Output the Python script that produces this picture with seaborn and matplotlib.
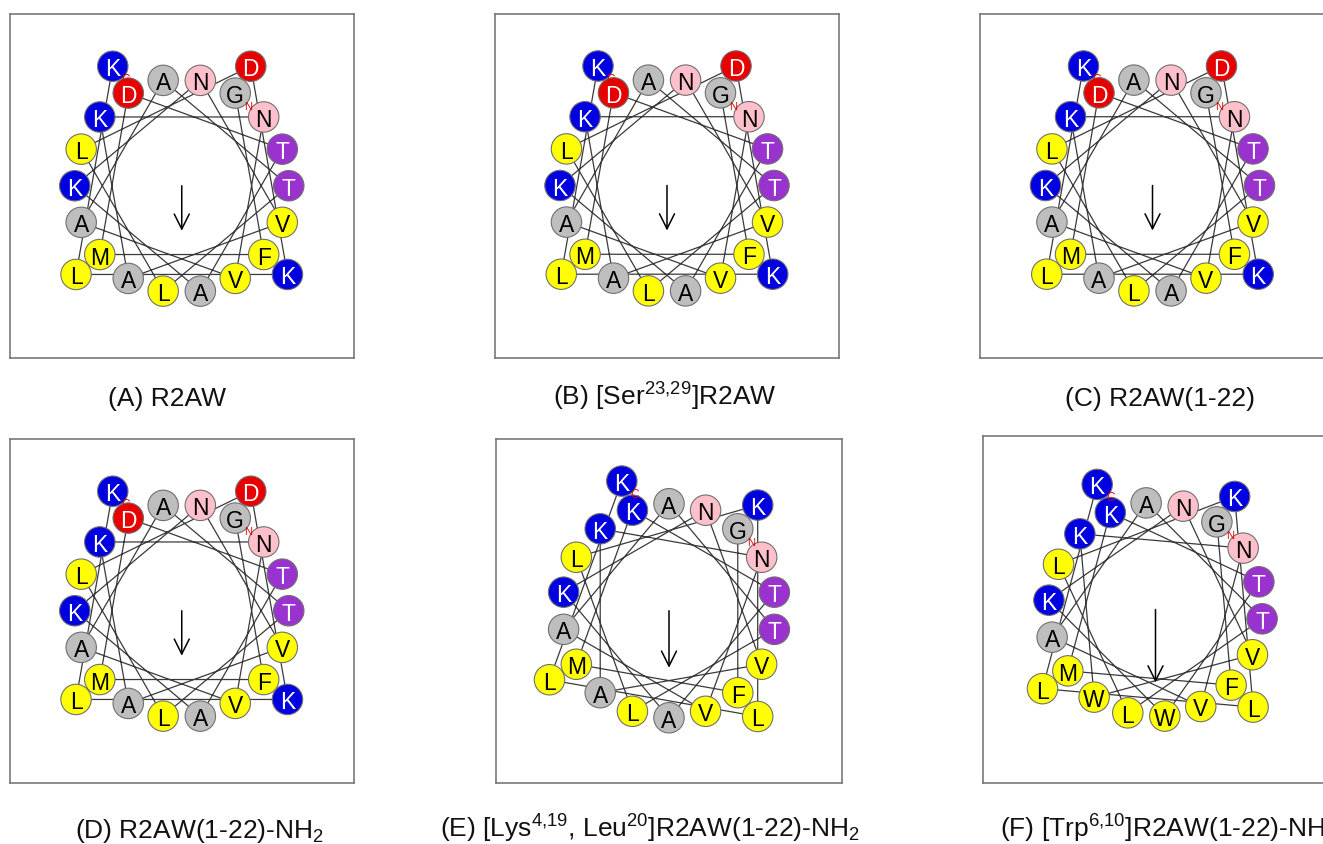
import matplotlib
matplotlib.use("Agg")
import matplotlib.pyplot as plt
import numpy as np
import pandas as pd
import seaborn as sns

# ---------------- data ----------------
seq_r2aw = list("GFMDTAKNVAKNVAATLLDKLK")
seq_lys = list("GFMKTAKNVAKNVAATLLKLLK")
seq_trp = list("GFMKTWKNVWKNVAATLLKLLK")

panel_names = [
    "(A) R2AW",
    r"(B) [Ser$^{\mathrm{23{,}29}}$]R2AW",
    "(C) R2AW(1-22)",
    r"(D) R2AW(1-22)-NH$_{\mathrm{2}}$",
    r"(E) [Lys$^{\mathrm{4{,}19}}$, Leu$^{\mathrm{20}}$]R2AW(1-22)-NH$_{\mathrm{2}}$",
    r"(F) [Trp$^{\mathrm{6{,}10}}$]R2AW(1-22)-NH$_{\mathrm{2}}$",
]
panel_seqs = [seq_r2aw, seq_r2aw, seq_r2aw, seq_r2aw, seq_lys, seq_trp]
panel_rotation = [30, 30, 30, 30, 40, 35]      # angle of residue 1 (deg, clockwise from top)
panel_moment = [45, 45, 45, 45, 57, 73]        # hydrophobic moment arrow length

residue_class = {
    "K": "basic", "R": "basic", "H": "basic",
    "D": "acidic", "E": "acidic",
    "N": "amide", "Q": "amide",
    "S": "hydroxyl", "T": "hydroxyl",
    "G": "small", "A": "small",
    "L": "hydrophobic", "M": "hydrophobic", "V": "hydrophobic",
    "F": "hydrophobic", "W": "hydrophobic", "I": "hydrophobic",
}
class_colors = {
    "basic": "#0000E0", "acidic": "#E80000", "amide": "#FFC0CB",
    "hydroxyl": "#9A32D0", "small": "#BEBEBE", "hydrophobic": "#FFFF00",
}
class_text = {
    "basic": "white", "acidic": "white", "amide": "black",
    "hydroxyl": "white", "small": "black", "hydrophobic": "black",
}

# ---------------- layout (pixels) ----------------
W, H = 1323, 845
boxes = [
    (9.5, 14.5, 354, 359),
    (495, 14.5, 839, 358.5),
    (980, 14.5, 1325, 358.5),
    (9.5, 440, 354, 783.5),
    (496, 439.5, 842, 784),
    (983, 437, 1328, 784),
]
caption_pos = [(108, 406), (553, 406), (1065, 406), (75, 838), (440, 838), (1000, 838)]
R_IN, R_OUT = 107, 138

sns.set_theme(style="white")
plt.rcParams["font.family"] = ["Liberation Sans", "DejaVu Sans"]
plt.rcParams["mathtext.fontset"] = "custom"
plt.rcParams["mathtext.rm"] = "Liberation Sans"
plt.rcParams["mathtext.it"] = "Liberation Sans:italic"
plt.rcParams["mathtext.bf"] = "Liberation Sans:bold"

fig = plt.figure(figsize=(W / 100, H / 100), dpi=100)
fig.patch.set_facecolor("white")

for k in range(6):
    x0, y0, x1, y1 = boxes[k]
    w, h = x1 - x0, y1 - y0
    ax = fig.add_axes([x0 / W, 1 - y1 / H, w / W, h / H])
    seq = panel_seqs[k]
    n = len(seq)
    idx = np.arange(n)
    ang = np.deg2rad(panel_rotation[k] + 100 * idx)
    rad = np.where(idx < 18, R_IN, R_OUT)
    xs = rad * np.sin(ang)
    ys = rad * np.cos(ang)
    df = pd.DataFrame({"pos": idx + 1, "res": seq, "x": xs, "y": ys,
                       "cls": [residue_class[r] for r in seq]})

    sns.lineplot(data=df, x="x", y="y", sort=False, estimator=None,
                 color="#3a3a3a", lw=0.9, ax=ax, zorder=1)
    sns.scatterplot(data=df.iloc[::-1], x="x", y="y", hue="cls",
                    palette=class_colors, s=480, edgecolor="#707070",
                    linewidth=0.8, legend=False, ax=ax, zorder=2)
    for r in df.itertuples():
        ax.text(r.x, r.y, r.res, ha="center", va="center_baseline",
                fontsize=16.5, color=class_text[r.cls], zorder=3)
    ax.text(xs[0] + 13, ys[0] - 13, "N", color="#E00000", fontsize=8,
            ha="center", va="center", zorder=4)
    ax.text(xs[-1] + 13, ys[-1] - 13, "C", color="#E00000", fontsize=8.5,
            ha="center", va="center", zorder=4)
    ax.annotate("", xy=(0, -panel_moment[k]), xytext=(0, 0),
                arrowprops=dict(arrowstyle="->,head_length=0.9,head_width=0.45",
                                color="black", lw=1.1, shrinkA=0, shrinkB=0),
                zorder=5)

    ax.set_xlim(-w / 2, w / 2)
    ax.set_ylim(-h / 2, h / 2)
    ax.set_xticks([])
    ax.set_yticks([])
    ax.set_xlabel("")
    ax.set_ylabel("")
    for sp in ax.spines.values():
        sp.set_visible(True)
        sp.set_color("#6e6e6e")
        sp.set_linewidth(1.1)

    cx, cy = caption_pos[k]
    fig.text(cx / W, 1 - cy / H, panel_names[k], ha="left", va="baseline",
             fontsize=19, color="#111111")

fig.savefig("out.png", dpi=100, facecolor="white")
